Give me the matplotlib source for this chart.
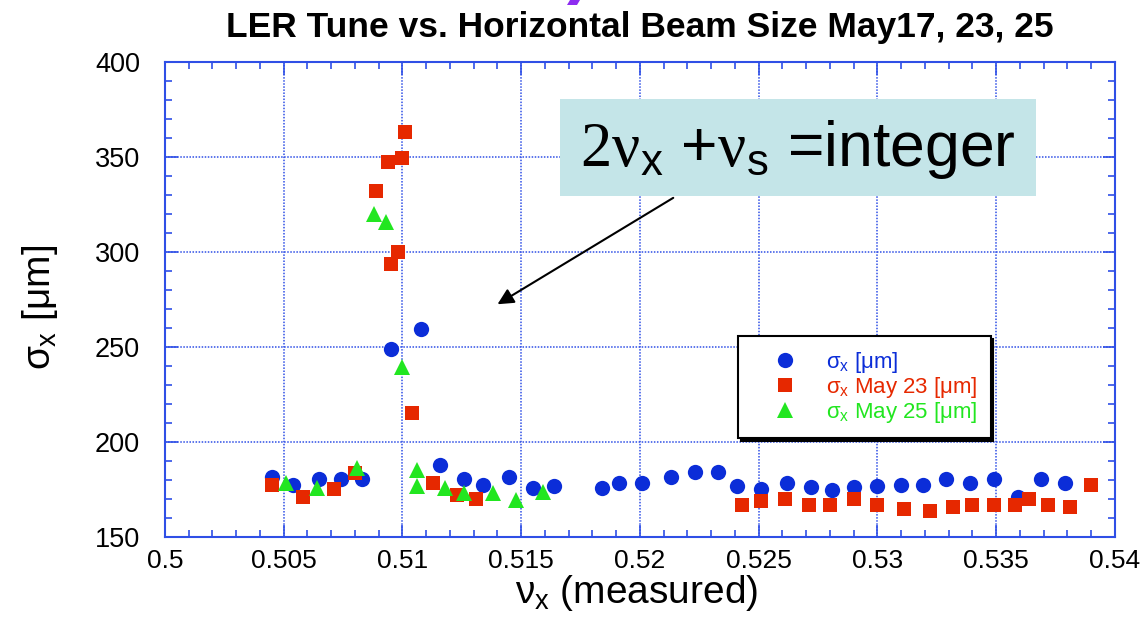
import matplotlib
matplotlib.use("Agg")
import matplotlib.pyplot as plt
from matplotlib.ticker import MultipleLocator
from matplotlib.patches import Rectangle, Polygon

plt.rcParams["font.family"] = ["Liberation Sans", "DejaVu Sans"]
plt.rcParams["mathtext.fontset"] = "custom"
plt.rcParams["mathtext.rm"] = "Liberation Sans"
plt.rcParams["mathtext.it"] = "Liberation Sans"
plt.rcParams["mathtext.sf"] = "Liberation Sans"
# serif face for the "2ν" part of the resonance formula
plt.rcParams["mathtext.bf"] = "Liberation Serif"

TITLE = "LER Tune vs. Horizontal Beam Size May17, 23, 25"

# May 17 scan: measured horizontal tune and beam size [um]
may17_nu = [0.5045, 0.5054, 0.5065, 0.5074, 0.5083, 0.5095, 0.5108, 0.5116,
            0.5126, 0.5134, 0.5145, 0.5155, 0.5164, 0.5184, 0.5191, 0.5201,
            0.5213, 0.5223, 0.5233, 0.5241, 0.5251, 0.5262, 0.5272, 0.5281,
            0.5290, 0.5300, 0.5310, 0.5319, 0.5329, 0.5339, 0.5349, 0.5359,
            0.5369, 0.5379]
may17_sigma = [181.7, 177.4, 180.4, 180.4, 180.4, 248.9, 259.3, 187.9,
               180.4, 177.4, 181.7, 176.0, 177.0, 176.0, 178.3, 178.3,
               181.4, 184.4, 184.4, 177.0, 175.3, 178.6, 176.1, 174.7,
               176.5, 177.0, 177.4, 177.4, 180.4, 178.6, 180.4, 170.9,
               180.4, 178.3]

# May 23 scan
may23_nu = [0.5045, 0.5058, 0.5071, 0.5080, 0.5089, 0.5094, 0.5095, 0.5098,
            0.5100, 0.5101, 0.5104, 0.5113, 0.5123, 0.5131, 0.5243, 0.5251,
            0.5261, 0.5271, 0.5280, 0.5290, 0.5300, 0.5311, 0.5322, 0.5332,
            0.5340, 0.5349, 0.5358, 0.5364, 0.5372, 0.5381, 0.5390]
may23_sigma = [177.4, 171.2, 175.1, 183.5, 332.1, 347.5, 293.5, 299.8,
               349.6, 363.3, 215.5, 178.3, 172.1, 169.8, 166.8, 169.0,
               170.0, 166.8, 166.8, 170.0, 166.8, 164.7, 163.7, 165.6,
               166.8, 166.8, 166.8, 170.0, 166.8, 165.6, 177.4]

# May 25 scan
may25_nu = [0.5051, 0.5064, 0.5081, 0.5088, 0.5093, 0.5100, 0.5106, 0.5106,
            0.5118, 0.5126, 0.5138, 0.5148, 0.5159]
may25_sigma = [178.3, 175.6, 186.2, 319.8, 316.0, 239.3, 185.3, 176.8,
               175.6, 173.0, 173.0, 169.5, 173.8]

series_labels = [r"$\sigma_x$ [$\mu$m]",
                 r"$\sigma_x$ May 23 [$\mu$m]",
                 r"$\sigma_x$ May 25 [$\mu$m]"]

x_ticks = [0.5, 0.505, 0.51, 0.515, 0.52, 0.525, 0.53, 0.535, 0.54]
x_tick_labels = ["0.5", "0.505", "0.51", "0.515", "0.52", "0.525",
                 "0.53", "0.535", "0.54"]
y_ticks = [150, 200, 250, 300, 350, 400]

BLUE = "#0b2dd8"
RED = "#e62800"
GREEN = "#22e620"
AXIS_BLUE = "#2f4fe6"

fig = plt.figure(figsize=(11.42, 6.21), dpi=100)
ax = fig.add_axes([0.14448, 0.13527, 0.83187, 0.76490])

h1, = ax.plot(may17_nu, may17_sigma, linestyle="none", marker="o",
              markersize=11, color=BLUE, markeredgewidth=0, zorder=3)
h2, = ax.plot(may23_nu, may23_sigma, linestyle="none", marker="s",
              markersize=10, color=RED, markeredgewidth=0, zorder=3)
h3, = ax.plot(may25_nu, may25_sigma, linestyle="none", marker="^",
              markersize=11, color=GREEN, markeredgewidth=0, zorder=3)

ax.set_xlim(0.5, 0.54)
ax.set_ylim(150, 400)
ax.set_xticks(x_ticks, x_tick_labels)
ax.set_yticks(y_ticks)
ax.xaxis.set_minor_locator(MultipleLocator(0.001))
ax.yaxis.set_minor_locator(MultipleLocator(10))

for sp in ax.spines.values():
    sp.set_color(AXIS_BLUE)
    sp.set_linewidth(1.5)

ax.tick_params(which="both", direction="in", top=True, right=True,
               color=AXIS_BLUE, width=1.2)
ax.tick_params(which="major", length=9)
ax.tick_params(which="minor", length=5)
ax.tick_params(axis="x", which="major", labelsize=19, pad=9)
ax.tick_params(axis="y", which="major", labelsize=19.5, pad=18)

ax.set_axisbelow(True)
ax.grid(which="major", color=AXIS_BLUE, linestyle=(0, (1, 1)), linewidth=1.1)

ax.set_xlabel(r"$\nu_x$ (measured)", fontsize=28)
ax.xaxis.set_label_coords(0.496, -0.075)
ax.set_ylabel(r"$\sigma_x$ [$\mu$m]", fontsize=28)
ax.yaxis.set_label_coords(-0.11, 0.483)

fig.text(0.5604, 1 - 37 / 621, TITLE, ha="center", va="baseline",
         fontsize=25.5, fontweight="bold")

# small purple stroke clipped at the top edge
fig.patches.append(Polygon([[570 / 1142, 1.0], [580 / 1142, 1.0],
                            [577 / 1142, 1 - 5 / 621], [567 / 1142, 1 - 5 / 621]],
                           closed=True, transform=fig.transFigure,
                           facecolor="#8d2cf0", edgecolor="none"))

# resonance annotation
ax.add_patch(Rectangle((0.4158, 0.7179), 0.5010, 0.2042, transform=ax.transAxes,
                       facecolor="#c4e5e8", edgecolor="none", zorder=5))
ax.text(0.6663, 0.815,
        r"$\mathbf{2\nu}_{\mathrm{x}}$ +$\mathbf{\nu}_{\mathrm{s}}$ =integer",
        transform=ax.transAxes, ha="center", va="center", fontsize=45,
        zorder=6)
ax.annotate("", xy=(0.5140, 272.5), xytext=(0.5214, 328.5),
            arrowprops=dict(arrowstyle="-|>", color="black", lw=1.5,
                            mutation_scale=24, shrinkA=0, shrinkB=0),
            zorder=6)

leg = ax.legend([h1, h2, h3], series_labels, loc="lower left",
                bbox_to_anchor=(0.603, 0.2084), borderaxespad=0,
                fontsize=16, frameon=True, fancybox=False, edgecolor="black",
                framealpha=1, shadow={"color": "black", "alpha": 1},
                handlelength=3, handletextpad=0.35, borderpad=0.6,
                labelspacing=0.0, markerscale=1.0)
leg.get_frame().set_linewidth(1.5)
for txt, col in zip(leg.get_texts(), [BLUE, RED, GREEN]):
    txt.set_color(col)
leg.set_zorder(7)

fig.savefig("out.png", dpi=100)
